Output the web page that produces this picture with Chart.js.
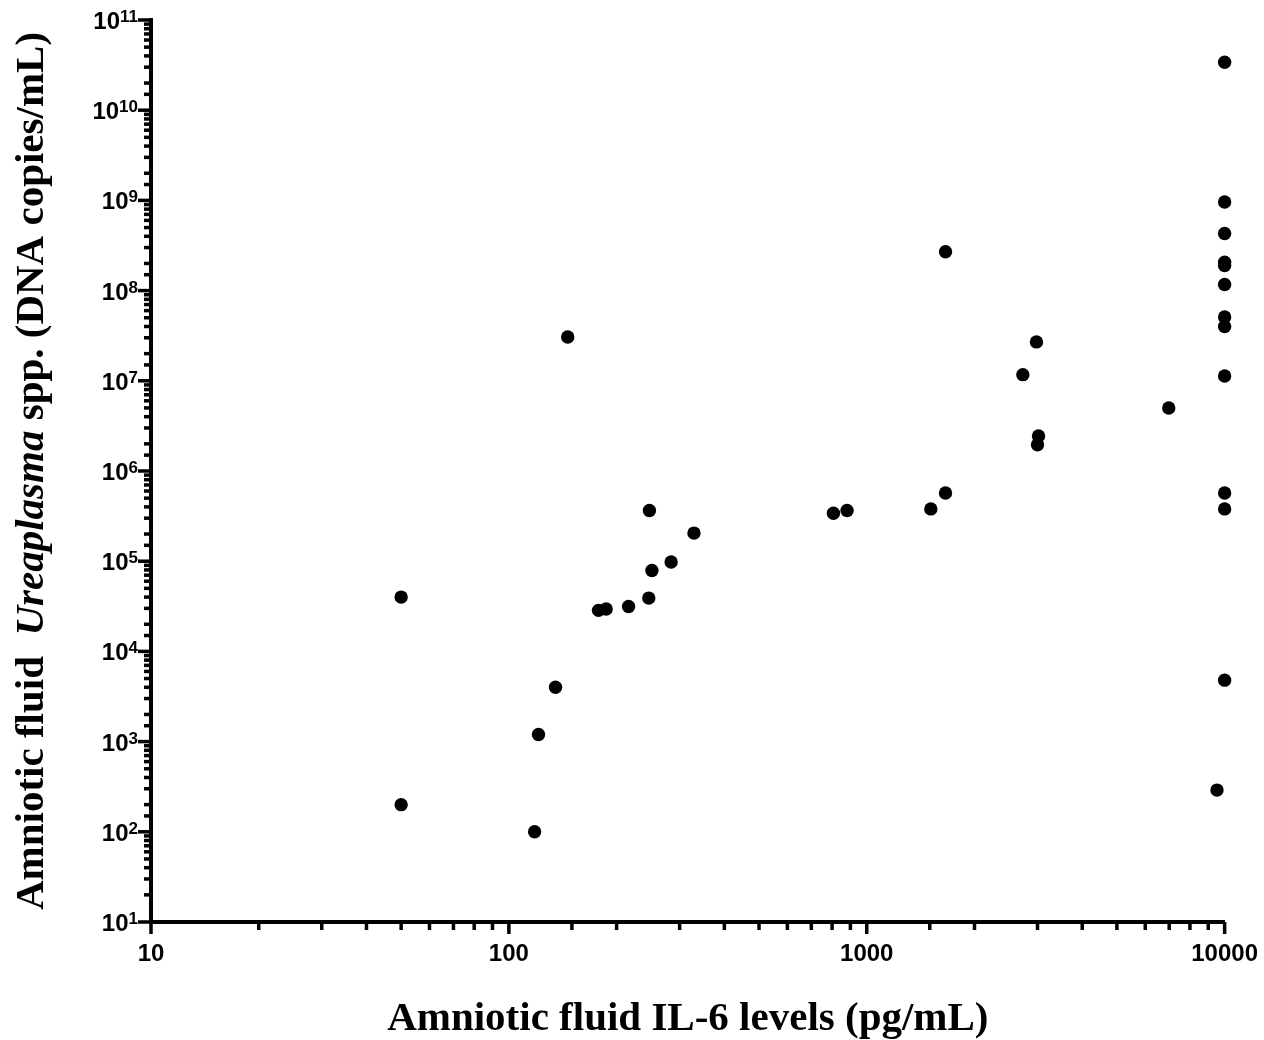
<!DOCTYPE html>
<html>
<head>
<meta charset="utf-8">
<script src="https://cdn.jsdelivr.net/npm/chart.js@4.4.0/dist/chart.umd.min.js"></script>
<style>
  html, body { margin: 0; padding: 0; background: #fff; }
</style>
</head>
<body>
<canvas id="scatter" width="1264" height="1040"></canvas>
<script>
// Amniotic fluid IL-6 (pg/mL) against Ureaplasma load (DNA copies/mL)
const il6 = [50, 50, 118, 121, 135, 146, 178, 187, 216, 246, 247, 251, 284, 329,
  807, 881, 1510, 1660, 1660, 2730, 2980, 3020, 3000, 6980, 9520,
  10000, 10000, 10000, 10000, 10000, 10000, 10000, 10000, 10000, 10000, 10000, 10000];
const ureaplasma = [40000, 200, 100, 1200, 4000, 3.06e7, 2.85e4, 2.95e4, 3.15e4, 3.9e4,
  3.65e5, 7.9e4, 9.8e4, 2.05e5, 3.4e5, 3.65e5, 3.8e5, 5.7e5, 2.7e8, 1.17e7, 2.7e7,
  2.45e6, 1.95e6, 5.0e6, 290,
  3.4e10, 9.6e8, 4.3e8, 2.06e8, 1.9e8, 1.17e8, 5.1e7, 4.0e7, 1.13e7, 5.7e5, 3.8e5, 4.8e3];
const xTickLabels = ['10', '100', '1000', '10000'];
const yExponents = [1, 2, 3, 4, 5, 6, 7, 8, 9, 10, 11];

const xTitle = 'Amniotic fluid IL-6 levels (pg/mL)';
const yTitleParts = [
  { text: 'Amniotic fluid  ', italic: false },
  { text: 'Ureaplasma', italic: true },
  { text: ' spp. (DNA copies/mL)', italic: false }
];

const points = il6.map((v, i) => ({ x: v, y: ureaplasma[i] }));

function isDecade(v) {
  const lg = Math.log10(v);
  return Math.abs(lg - Math.round(lg)) < 1e-9;
}

// tick marks (long on decades), 10^n labels and the mixed-style y title
const axisDecor = {
  id: 'axisDecor',
  afterDraw(chart) {
    const ctx = chart.ctx;
    const xs = chart.scales.x, ys = chart.scales.y;
    const area = chart.chartArea;
    ctx.save();
    ctx.strokeStyle = '#000';
    ctx.lineWidth = 3.5;
    ctx.lineCap = 'butt';
    xs.ticks.forEach(t => {
      const px = xs.getPixelForValue(t.value);
      const len = isDecade(t.value) ? 12 : 8;
      ctx.beginPath();
      ctx.moveTo(px, area.bottom);
      ctx.lineTo(px, area.bottom + len);
      ctx.stroke();
    });
    ys.ticks.forEach(t => {
      const py = ys.getPixelForValue(t.value);
      const len = isDecade(t.value) ? 13 : 7;
      ctx.beginPath();
      ctx.moveTo(area.left, py);
      ctx.lineTo(area.left - len, py);
      ctx.stroke();
    });

    // y labels: 10 with raised exponent
    ctx.fillStyle = '#000';
    ctx.textAlign = 'right';
    ctx.textBaseline = 'alphabetic';
    const right = 138;
    yExponents.forEach(e => {
      const py = ys.getPixelForValue(Math.pow(10, e));
      ctx.font = 'bold 17px "Liberation Sans", Arial, sans-serif';
      const ew = ctx.measureText(String(e)).width;
      ctx.fillText(String(e), right, py + 2);
      ctx.font = 'bold 24px "Liberation Sans", Arial, sans-serif';
      ctx.fillText('10', right - ew, py + 9);
    });

    // y title
    const serif = '"Liberation Serif", "Times New Roman", serif';
    const fontOf = p => (p.italic ? 'italic bold ' : 'bold ') + '41px ' + serif;
    let total = 0;
    yTitleParts.forEach(p => { ctx.font = fontOf(p); total += ctx.measureText(p.text).width; });
    ctx.translate(43, (area.top + area.bottom) / 2);
    ctx.rotate(-Math.PI / 2);
    ctx.textAlign = 'left';
    let cx = -total / 2;
    yTitleParts.forEach(p => {
      ctx.font = fontOf(p);
      ctx.fillText(p.text, cx, 0);
      cx += ctx.measureText(p.text).width;
    });
    ctx.restore();
  }
};

new Chart(document.getElementById('scatter'), {
  type: 'scatter',
  data: {
    datasets: [{
      data: points,
      backgroundColor: '#000',
      borderWidth: 0,
      pointRadius: 6.7,
      pointHoverRadius: 6.7,
      clip: false
    }]
  },
  options: {
    responsive: false,
    animation: false,
    devicePixelRatio: 1,
    layout: { padding: { left: 0, top: 20, right: 39, bottom: 0 } },
    plugins: { legend: { display: false }, tooltip: { enabled: false } },
    scales: {
      x: {
        type: 'logarithmic',
        min: 10,
        max: 10000,
        grid: { display: false, drawTicks: true, tickLength: 12 },
        border: { display: true, color: '#000', width: 4 },
        ticks: {
          autoSkip: false,
          maxRotation: 0,
          padding: 6,
          color: '#000',
          font: { family: '"Liberation Sans", Arial, sans-serif', size: 24, weight: 'bold' },
          callback: v => (isDecade(v) && xTickLabels.includes(String(Math.round(v))) ? String(Math.round(v)) : '')
        },
        title: {
          display: true,
          text: xTitle,
          color: '#000',
          font: { family: '"Liberation Serif", "Times New Roman", serif', size: 41, weight: 'bold', lineHeight: 1 },
          padding: { top: 0, bottom: 0 }
        },
        afterFit: s => { s.height = 118; }
      },
      y: {
        type: 'logarithmic',
        min: 10,
        max: 1e11,
        grid: { display: false },
        border: { display: true, color: '#000', width: 4 },
        ticks: { display: false },
        afterFit: s => { s.width = 151; }
      }
    }
  },
  plugins: [axisDecor]
});
</script>
</body>
</html>
